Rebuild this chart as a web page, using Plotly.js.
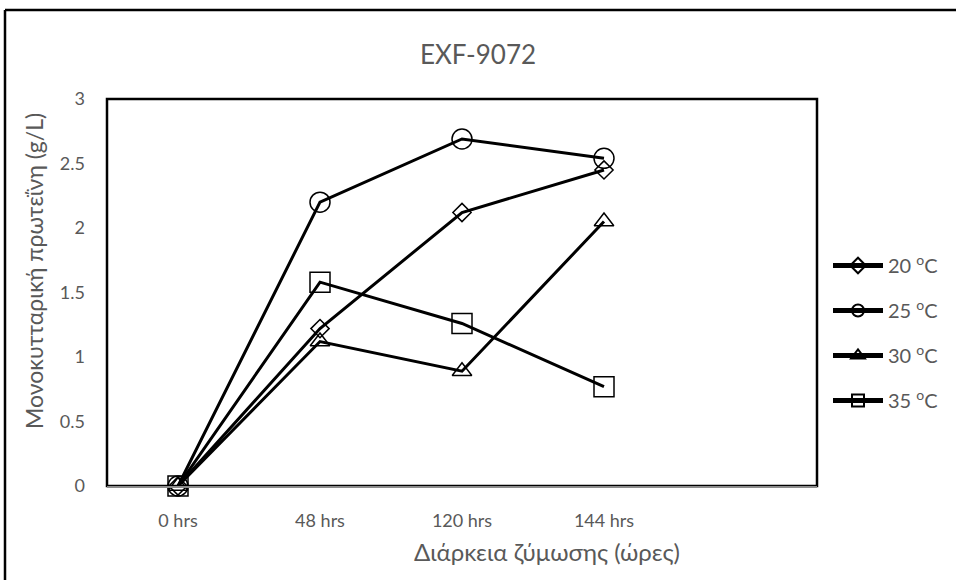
<!DOCTYPE html>
<html>
<head>
<meta charset="utf-8">
<script src="https://cdn.plot.ly/plotly-3.0.1.min.js"></script>
<style>html,body{margin:0;padding:0;background:#fff;}#chart{width:956px;height:580px;}</style>
</head>
<body>
<div id="chart"></div>
<script>
const categories = ['0 hrs', '48 hrs', '120 hrs', '144 hrs'];
const seriesNames = ['20 <sup>o</sup>C', '25 <sup>o</sup>C', '30 <sup>o</sup>C', '35 <sup>o</sup>C'];
const values20 = [0, 1.22, 2.12, 2.45];
const values25 = [0, 2.20, 2.69, 2.54];
const values30 = [0, 1.12, 0.89, 2.05];
const values35 = [0, 1.58, 1.26, 0.77];
const chartTitle = 'EXF-9072';
const xTitle = 'Διάρκεια ζύμωσης (ώρες)';
const yTitle = 'Μονοκυτταρική πρωτεΐνη (g/L)';

const FONT = 'Lato, Open Sans, sans-serif';
const GREY = '#595959';
const symbols = ['diamond-open', 'circle-open', 'triangle-up-open', 'square-open'];
const sizes = [14, 20, 17, 20];
const allValues = [values20, values25, values30, values35];

const traces = allValues.map((v, i) => ({
  x: categories,
  y: v,
  name: seriesNames[i],
  type: 'scatter',
  mode: 'lines+markers',
  cliponaxis: false,
  legendgroup: 'g' + i,
  line: {color: '#000', width: 3},
  marker: {symbol: symbols[i], size: sizes[i], color: '#000', line: {color: '#000', width: 1.5}}
}));

const px = p => (p - 107) / 710;
const py = p => (486 - p) / 387;

const layout = {
  width: 956, height: 580,
  margin: {l: 107, r: 139, t: 99, b: 94},
  paper_bgcolor: '#fff', plot_bgcolor: '#fff',
  font: {family: FONT, color: GREY, size: 18},
  title: {text: chartTitle, font: {family: FONT, size: 26, color: GREY}, x: 0.5, xref: 'container', xanchor: 'center', y: 1 - 55/580, yanchor: 'middle'},
  xaxis: {
    type: 'category', range: [-0.5, 4.5], showgrid: false, zeroline: false,
    showline: true, linecolor: '#8c8c8c', linewidth: 2,
    ticks: '', ticklabelstandoff: 17,
    tickfont: {family: FONT, size: 18, color: GREY}
  },
  yaxis: {
    range: [0, 3], dtick: 0.5, showgrid: false, zeroline: false,
    showline: false, ticks: '', ticklabelstandoff: 21,
    tickfont: {family: FONT, size: 18, color: GREY}
  },
  showlegend: true,
  legend: {
    x: px(828), xanchor: 'left', y: py(333), yanchor: 'middle',
    font: {family: FONT, size: 20, color: GREY},
    traceorder: 'grouped', tracegroupgap: 16, itemwidth: 50, itemsizing: 'constant',
    bgcolor: 'rgba(0,0,0,0)'
  },
  annotations: [
    {text: xTitle, xref: 'paper', yref: 'paper', x: px(547), y: py(551), xanchor: 'center', yanchor: 'middle', showarrow: false, font: {family: FONT, size: 24, color: GREY}},
    {text: yTitle, xref: 'paper', yref: 'paper', x: px(34), y: py(271), xanchor: 'center', yanchor: 'middle', textangle: -90, showarrow: false, font: {family: FONT, size: 23, color: GREY}}
  ],
  shapes: [
    {type: 'rect', xref: 'paper', yref: 'paper', x0: 0, x1: 1, y0: 0, y1: 1, line: {color: '#000', width: 2.5}, layer: 'below'},
    {type: 'line', xref: 'paper', yref: 'paper', x0: px(5), x1: px(5), y0: py(10), y1: py(582), line: {color: '#000', width: 2.5}},
    {type: 'line', xref: 'paper', yref: 'paper', x0: px(5), x1: px(958), y0: py(10), y1: py(10), line: {color: '#000', width: 2.5}}
  ]
};

Plotly.newPlot('chart', traces, layout, {displayModeBar: false, responsive: false});
</script>
</body>
</html>
